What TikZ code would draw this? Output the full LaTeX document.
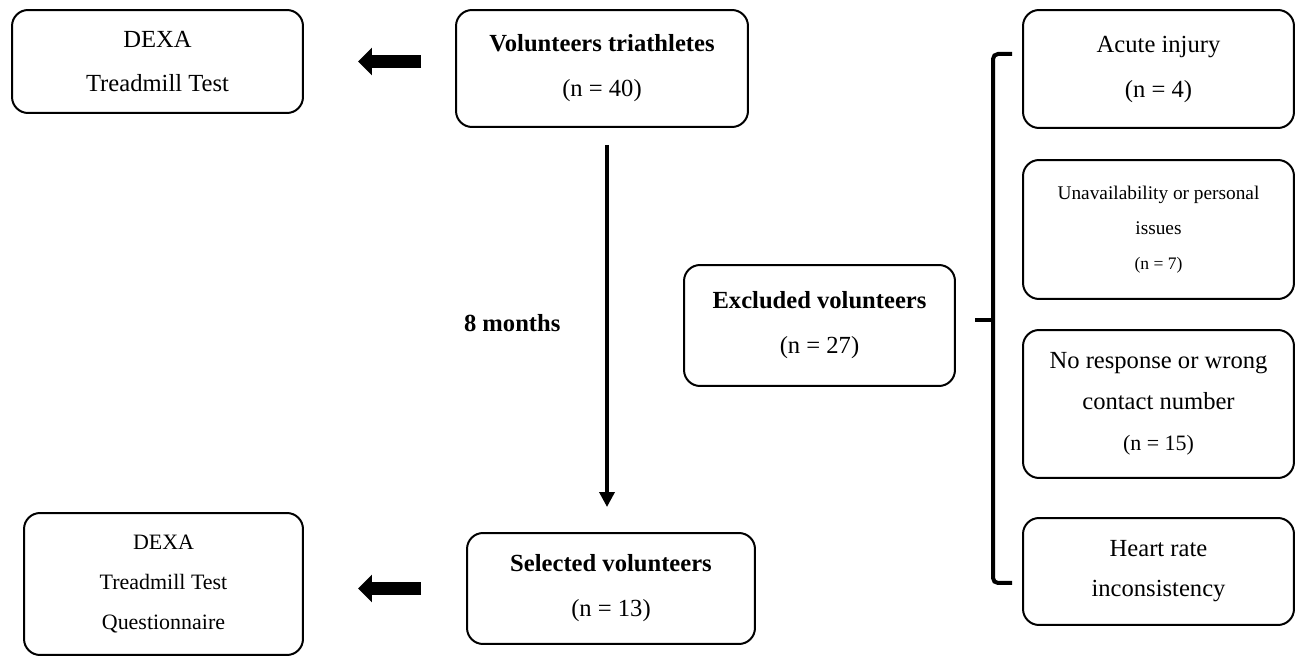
\documentclass[tikz,border=0pt]{standalone}
\usepackage{fontspec}
\setmainfont{Liberation Serif}
\usetikzlibrary{arrows.meta}

\tikzset{
  box/.style = {draw, line width=0.04cm, rounded corners=0.32cm, align=center, inner sep=0pt},
  big/.style = {font=\fontsize{14}{25.6}\selectfont},
  fat/.style = {line width=0.26cm, -{Triangle[length=0.28cm, width=0.54cm]}},
  thin/.style = {line width=0.07cm, -{Triangle[length=0.3cm, width=0.3cm]}},
  brace/.style = {line width=0.08cm, rounded corners=0.1cm}
}

\begin{document}
\begin{tikzpicture}[x = 0.02cm, y = -0.02cm]
\useasboundingbox (0,0) rectangle (1296,658);

% left column
\node[box, big, minimum width=5.82cm, minimum height=2.06cm] (dexaA) at (157.5,61.5) {DEXA\\Treadmill Test};
\node[box, minimum width=5.58cm, minimum height=2.84cm, font=\fontsize{12.5}{22.8}\selectfont] (dexaB) at (163.5,584) {DEXA\\Treadmill Test\\Questionnaire};

% middle column
\node[box, big, minimum width=5.84cm, minimum height=2.34cm] (vol) at (602,68.5) {\textbf{Volunteers triathletes}\\(n = 40)};
\node[box, big, minimum width=5.76cm, minimum height=2.22cm] (sel) at (611,588.5) {\textbf{Selected volunteers}\\(n = 13)};
\node[box, big, minimum width=5.42cm, minimum height=2.42cm] (excl) at (819.5,325.5) {\textbf{Excluded volunteers}\\(n = 27)};

% right column
\node[box, big, minimum width=5.42cm, minimum height=2.36cm] (acute) at (1158.5,69) {Acute injury\\(n = 4)};
\node[box, minimum width=5.42cm, minimum height=2.78cm, font=\fontsize{11}{19.9}\selectfont] (unav) at (1158.5,229.5) {Unavailability or personal\\issues\\{\fontsize{10}{12}\selectfont(n = 7)}};
\node[box, big, minimum width=5.42cm, minimum height=2.96cm, font=\fontsize{14}{23.3}\selectfont] (noresp) at (1158.5,404) {No response or wrong\\contact number\\{\fontsize{12.5}{14}\selectfont(n = 15)}};
\node[box, minimum width=5.42cm, minimum height=2.14cm, font=\fontsize{14}{22.8}\selectfont] (heart) at (1158.5,571.5) {Heart rate\\inconsistency};

% arrows
\coordinate (mid) at (607,0);
\draw[fat, shorten <=0.68cm, shorten >=1.08cm] (vol.west |- dexaA.east) -- (dexaA.east);
\draw[fat, shorten <=0.9cm, shorten >=1.08cm] (sel.west) -- (sel.west -| dexaB.east);
\draw[thin, shorten <=0.34cm, shorten >=0.5cm] (vol.south -| mid) -- (sel.north -| mid)
  node[midway, left=0.78cm, yshift=0.14cm, font=\fontsize{14}{16}\selectfont\bfseries] (months) {8 months};

% brace
\coordinate (braceTop) at (1012,54);
\coordinate (braceBot) at (1012,583);
\coordinate (braceTip) at (975,320);
\draw[brace] (braceTop) -- ++(-19,0) -- ++(0,529) -- (braceBot);
\draw[brace] (braceTip) -- ++(18,0);
\end{tikzpicture}
\end{document}
